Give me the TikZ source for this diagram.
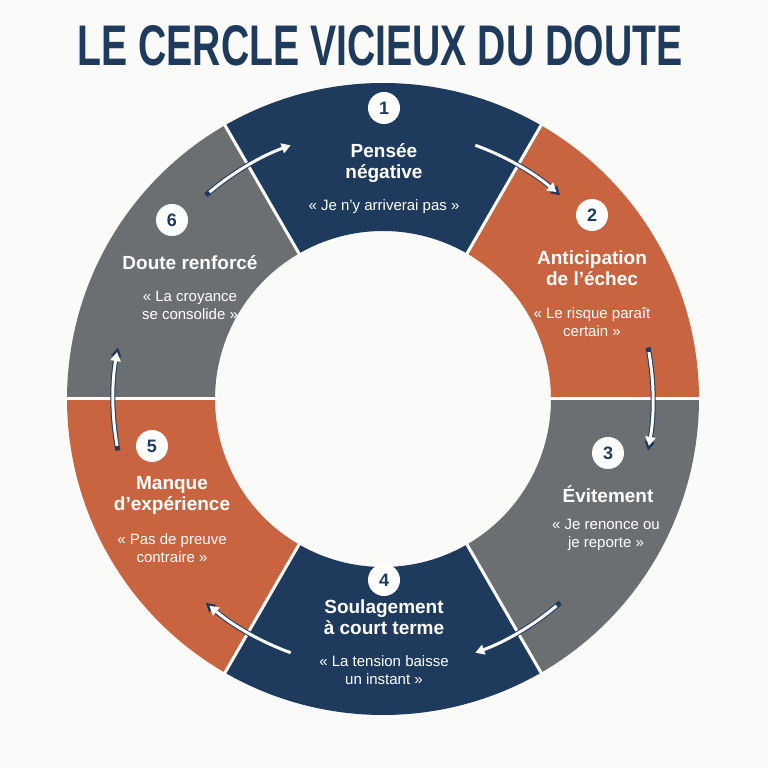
\documentclass[tikz,border=0pt]{standalone}
\usepackage{fontspec}
\setmainfont{Liberation Sans}
\usetikzlibrary{arrows.meta}
\definecolor{navy}{HTML}{1E3A5C}
\definecolor{rust}{HTML}{C8643F}
\definecolor{slate}{HTML}{6C6F72}
\definecolor{bg}{HTML}{FAFAF8}
\begin{document}
\begin{tikzpicture}[x=1pt,y=1pt,
 num/.style={circle,fill=white,minimum size=32pt,inner sep=0pt,text=navy,font=\fontsize{18}{18}\selectfont\bfseries},
 ttl/.style={text=white,align=center,font=\fontsize{19}{21}\selectfont\bfseries},
 quo/.style={text=white,align=center,font=\fontsize{15}{18}\selectfont},
 arr/.style={-{Triangle[length=9pt,width=10pt]},line width=3pt}]
\fill[bg] (0,0) rectangle (768,768);
\useasboundingbox (0,0) rectangle (768,768);
\node[text=navy] (title) at (380,722) {\resizebox{605pt}{40pt}{\bfseries LE CERCLE VICIEUX DU DOUTE}};
\begin{scope}[shift={(383,369)}]
\foreach \a/\c in {60/navy,0/rust,-60/slate,-120/navy,-180/rust,-240/slate}{
 \fill[\c] (\a:168) -- (\a:316) arc[start angle=\a,end angle=\a+60,radius=316] -- (\a+60:168) arc[start angle=\a+60,end angle=\a,radius=168] -- cycle;
}
\foreach \a in {0,60,120,180,240,300}{\draw[white,line width=3pt] (\a:166) -- (\a:318);}
\foreach \a in {120,60,0,-60,-120,180}{
 \draw[arr,navy,line width=5pt] ([shift={(\a+11:270)}]0,0) arc[start angle=\a+11,end angle=\a-11,radius=270];
 \draw[arr,white] ([shift={(\a+10:270)}]0,0) arc[start angle=\a+10,end angle=\a-10,radius=270];
}
\end{scope}
\node[num] (n1) at (384,660) {1};
\node[ttl] (t1) at (384,605) {Pensée\\négative};
\node[quo] (q1) at (384,561) {« Je n’y arriverai pas »};
\node[num] (n2) at (592,553) {2};
\node[ttl] (t2) at (592,500) {Anticipation\\de l’échec};
\node[quo] (q2) at (592,446) {« Le risque paraît\\certain »};
\node[num] (n3) at (608,315) {3};
\node[ttl] (t3) at (608,274) {Évitement};
\node[quo] (q3) at (606,233) {« Je renonce ou\\je reporte »};
\node[num] (n4) at (384,188) {4};
\node[ttl] (t4) at (384,151) {Soulagement\\à court terme};
\node[quo] (q4) at (384,98) {« La tension baisse\\un instant »};
\node[num] (n5) at (152,322) {5};
\node[ttl] (t5) at (172,273) {Manque\\d’expérience};
\node[quo] (q5) at (172,220) {« Pas de preuve\\contraire »};
\node[num] (n6) at (172,548) {6};
\node[ttl] (t6) at (190,505) {Doute renforcé};
\node[quo] (q6) at (190,463) {« La croyance\\se consolide »};
\end{tikzpicture}
\end{document}
